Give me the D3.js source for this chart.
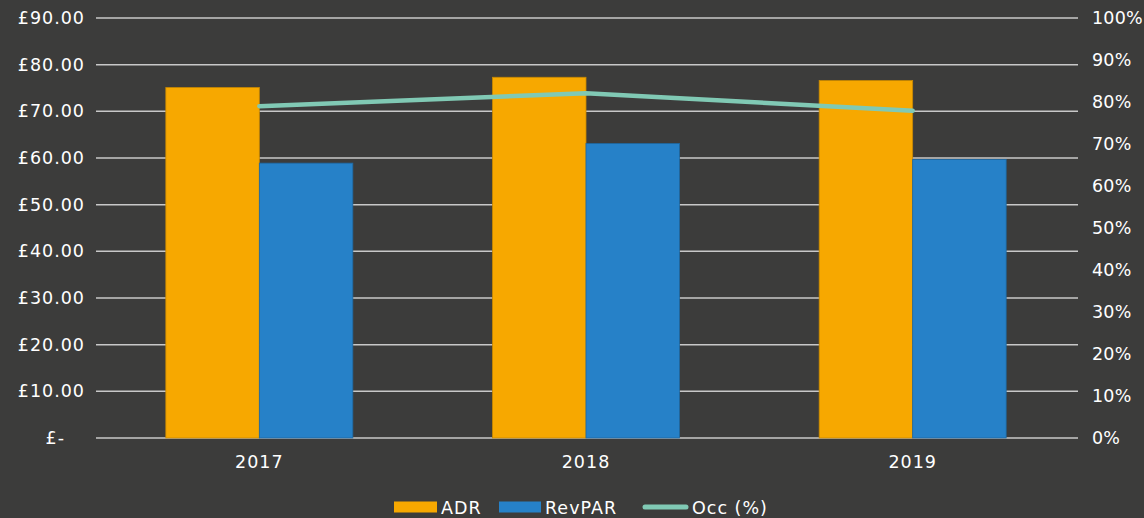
<!DOCTYPE html>
<html>
<head>
<meta charset="utf-8">
<script src="https://cdn.jsdelivr.net/npm/d3@7"></script>
<style>
  body { margin: 0; background: #3c3c3b; }
  text { font-family: "DejaVu Sans", sans-serif; fill: #ffffff; letter-spacing: 1px; }
</style>
</head>
<body>
<script>
let years = ["2017", "2018", "2019"];
let adr = [75.1, 77.3, 76.6];
let revpar = [58.9, 63.1, 59.7];
let occ = [79.0, 82.1, 77.9];
let leftTicks = [0, 10, 20, 30, 40, 50, 60, 70, 80, 90];
let rightTicks = [0, 10, 20, 30, 40, 50, 60, 70, 80, 90, 100];

let size = {width: 1144, height: 518};
let margin = {top: 18, right: 70, bottom: 80, left: 96};
let colors = {adr: "#f7a800", revpar: "#2681c8", occ: "#80c9b4", grid: "#c8c8c8"};
let fontSize = 17.5;

let svg = d3.select("body").append("svg")
    .attr("width", size.width)
    .attr("height", size.height);

let x = d3.scaleBand()
    .domain(years)
    .range([margin.left, size.width - margin.right + 2]);

let y = d3.scaleLinear()
    .domain([0, 90])
    .range([size.height - margin.bottom, margin.top]);

let y2 = d3.scaleLinear()
    .domain([0, 1])
    .range([size.height - margin.bottom, margin.top]);

let series = ["adr", "revpar"];
let xs = d3.scaleBand()
    .domain(series)
    .range([0, 187]);

// gridlines
svg.append("g")
    .selectAll("line")
    .data(leftTicks)
    .join("line")
    .attr("x1", margin.left)
    .attr("x2", size.width - margin.right + 4)
    .attr("y1", d => y(d))
    .attr("y2", d => y(d))
    .attr("stroke", colors.grid)
    .attr("stroke-width", 1.5);

// bars
let rows = years.map((yr, i) => ({year: yr, adr: adr[i], revpar: revpar[i]}));
svg.append("g")
    .selectAll("g")
    .data(rows)
    .join("g")
    .attr("transform", d => `translate(${x(d.year) + x.bandwidth() / 2 - 93.5},0)`)
    .selectAll("rect")
    .data(d => series.map(k => ({key: k, value: d[k]})))
    .join("rect")
    .attr("x", d => xs(d.key))
    .attr("width", xs.bandwidth())
    .attr("y", d => y(d.value))
    .attr("height", d => y(0) - y(d.value))
    .attr("fill", d => colors[d.key])
    .attr("stroke", d => d3.color(colors[d.key]).darker(0.6))
    .attr("stroke-width", 0.8);

// occupancy line
let line = d3.line()
    .x((d, i) => x(years[i]) + x.bandwidth() / 2)
    .y(d => y2(d / 100));

svg.append("path")
    .datum(occ)
    .attr("d", line)
    .attr("fill", "none")
    .attr("stroke", colors.occ)
    .attr("stroke-width", 4.5)
    .attr("stroke-linecap", "round");

let styleText = g => g.selectAll("text")
    .attr("font-size", fontSize)
    .attr("fill", "#ffffff")
    .style("font-family", "DejaVu Sans, sans-serif");

// left axis
let leftAxis = d3.axisLeft(y)
    .tickValues(leftTicks)
    .tickSize(0)
    .tickPadding(11)
    .tickFormat(d => d === 0 ? "£-" : "£" + d3.format(".2f")(d));

svg.append("g")
    .attr("transform", `translate(${margin.left},0)`)
    .call(leftAxis)
    .call(g => g.select(".domain").remove())
    .call(styleText);

// "£-" sits further left in the original
svg.selectAll("text").filter(function () { return d3.select(this).text() === "£-"; })
    .attr("dx", -20);

// right axis
let rightAxis = d3.axisRight(y2)
    .tickValues(rightTicks.map(d => d / 100))
    .tickSize(0)
    .tickPadding(14)
    .tickFormat(d3.format(".0%"));

svg.append("g")
    .attr("transform", `translate(${size.width - margin.right + 4},0)`)
    .call(rightAxis)
    .call(g => g.select(".domain").remove())
    .call(styleText)
    .call(g => g.selectAll("text").style("letter-spacing", "0.2px"));

// x axis labels
let xAxis = d3.axisBottom(x).tickSize(0).tickPadding(18);
svg.append("g")
    .attr("transform", `translate(0,${y(0)})`)
    .call(xAxis)
    .call(g => g.select(".domain").remove())
    .call(styleText);

// legend
let legend = svg.append("g").attr("transform", "translate(394,507)");
legend.append("rect").attr("x", 0).attr("y", -5.5).attr("width", 43).attr("height", 11).attr("fill", colors.adr);
legend.append("text").attr("x", 47).attr("y", 6.5).attr("font-size", fontSize).text("ADR");
legend.append("rect").attr("x", 105).attr("y", -5.5).attr("width", 42).attr("height", 11).attr("fill", colors.revpar);
legend.append("text").attr("x", 151).attr("y", 6.5).attr("font-size", fontSize).text("RevPAR");
legend.append("line").attr("x1", 251).attr("x2", 292).attr("y1", 0).attr("y2", 0)
    .attr("stroke", colors.occ).attr("stroke-width", 5).attr("stroke-linecap", "round");
legend.append("text").attr("x", 298).attr("y", 6.5).attr("font-size", fontSize).text("Occ (%)");
</script>
</body>
</html>
